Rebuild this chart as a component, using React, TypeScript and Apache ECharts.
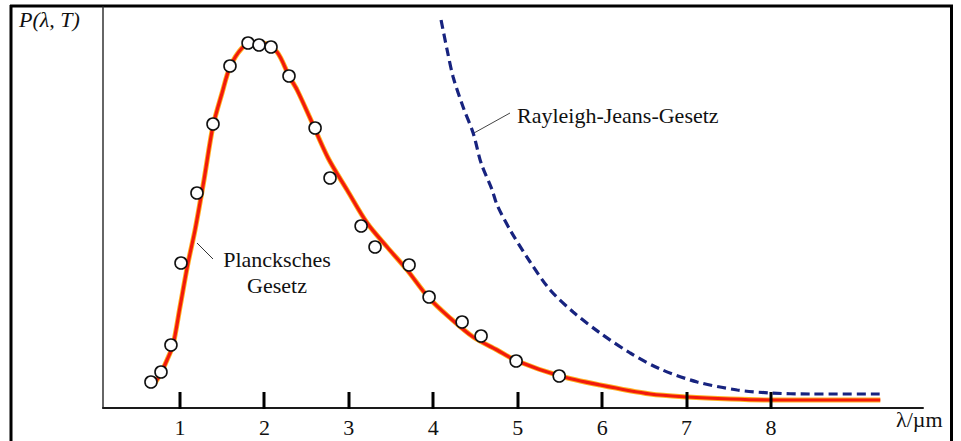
import React, { useEffect, useRef } from "react";
import * as echarts from "echarts";

// x tick values (wavelength in µm)
const xTickValues = [1, 2, 3, 4, 5, 6, 7, 8];

// Planck's law curve
const planckX = [0.68, 0.775, 0.846, 0.917, 1.0, 1.095, 1.178, 1.284, 1.391, 1.498, 1.592, 1.735, 1.853, 1.972, 2.149, 2.291, 2.387, 2.54, 2.754, 2.979, 3.216, 3.453, 3.69, 3.938, 4.199, 4.472, 4.755, 4.993, 5.502, 5.976, 6.569, 7.008, 7.517, 7.991, 9.294];
const planckY = [22, 35, 48, 63, 101, 145, 178, 228, 282, 315, 341, 360, 365, 365, 356, 332, 318, 290, 250, 218, 185, 161, 138, 111, 90, 71, 58, 47, 32, 23, 14, 11, 9, 8, 8];

// Rayleigh-Jeans curve
const rjX = [4.092, 4.164, 4.235, 4.353, 4.472, 4.566, 4.697, 4.756, 4.91, 5.147, 5.384, 5.656, 5.976, 6.332, 6.687, 7.126, 7.6, 7.991, 8.464, 9.294];
const rjY = [388, 358, 331, 301, 275, 245, 218, 203, 178, 146, 118, 96, 75, 55, 39, 26, 18, 15, 14, 14];

// measured points (circles)
const measX = [0.656, 0.775, 0.893, 1.012, 1.201, 1.391, 1.592, 1.806, 1.936, 2.078, 2.291, 2.6, 2.777, 3.145, 3.31, 3.713, 3.95, 4.341, 4.566, 4.981, 5.491];
const measY = [26, 36, 63, 145, 215, 284, 342, 365, 363, 361, 332, 280, 230, 182, 161, 143, 111, 86, 72, 47, 32];

const SERIF = "'Liberation Serif', 'DejaVu Serif', serif";

export default function App() {
  const ref = useRef<HTMLDivElement>(null);
  useEffect(() => {
    const chart = echarts.init(ref.current!, null, { renderer: "svg" });
    const zip = (xs: number[], ys: number[]) => xs.map((x, i) => [x, ys[i]]);
    const baseGraphic: any[] = [
      { id: "fl", type: "line", shape: { x1: 11, y1: 5, x2: 11, y2: 441 }, style: { stroke: "#000", lineWidth: 3 } },
      { id: "ft", type: "line", shape: { x1: 10, y1: 6, x2: 953, y2: 6 }, style: { stroke: "#000", lineWidth: 3 } },
      { id: "fr", type: "line", shape: { x1: 951.5, y1: 5, x2: 951.5, y2: 441 }, style: { stroke: "#000", lineWidth: 3 } },
      {
        id: "ylab",
        type: "text",
        style: { text: "P(λ, T)", x: 19, y: 19, verticalAlign: "middle", align: "left", font: `italic 22px ${SERIF}`, fill: "#111" },
      },
      {
        id: "xlab",
        type: "text",
        style: { text: "λ/µm", x: 896, y: 419, verticalAlign: "middle", align: "left", font: `22px ${SERIF}`, fill: "#111" },
      },
      {
        id: "pl1",
        type: "text",
        style: { text: "Plancksches", x: 277, y: 259, verticalAlign: "middle", align: "center", font: `22px ${SERIF}`, fill: "#111" },
      },
      {
        id: "pl2",
        type: "text",
        style: { text: "Gesetz", x: 277, y: 285, verticalAlign: "middle", align: "center", font: `22px ${SERIF}`, fill: "#111" },
      },
      {
        id: "rj",
        type: "text",
        style: { text: "Rayleigh-Jeans-Gesetz", x: 517, y: 115, verticalAlign: "middle", align: "left", font: `22px ${SERIF}`, fill: "#111" },
      },
      { id: "ll1", type: "line", shape: { x1: 197, y1: 243, x2: 213, y2: 259 }, style: { stroke: "#333", lineWidth: 1 } },
      { id: "ll2", type: "line", shape: { x1: 474, y1: 133, x2: 510, y2: 113 }, style: { stroke: "#444", lineWidth: 1 } },
    ];
    chart.setOption({
      animation: false,
      backgroundColor: "#ffffff",
      grid: { left: 103, right: 38, top: 7, bottom: 33 },
      xAxis: {
        type: "value",
        min: 0.088,
        max: 9.8,
        axisLine: { show: true, onZero: true, lineStyle: { color: "#1a1a1a", width: 2 } },
        axisTick: { show: false },
        axisLabel: {
          customValues: xTickValues.slice(),
          fontFamily: SERIF,
          fontSize: 22,
          color: "#111",
          margin: 8,
        },
        splitLine: { show: false },
      },
      yAxis: {
        type: "value",
        min: 0,
        max: 401,
        axisLine: { show: true, lineStyle: { color: "#333", width: 1.5 } },
        axisTick: { show: false },
        axisLabel: { show: false },
        splitLine: { show: false },
      },
      series: [
        {
          type: "line",
          name: "Rayleigh-Jeans-Gesetz",
          data: zip(rjX, rjY),
          smooth: 0.3,
          showSymbol: false,
          lineStyle: { color: "#17237f", width: 3.2, type: [9, 5] },
          z: 2,
        },
        {
          type: "line",
          name: "glow",
          data: zip(planckX, planckY),
          smooth: 0.3,
          showSymbol: false,
          lineStyle: { color: "#ffb020", width: 5 },
          z: 3,
        },
        {
          type: "line",
          name: "Plancksches Gesetz",
          data: zip(planckX, planckY),
          smooth: 0.3,
          showSymbol: false,
          lineStyle: { color: "#f21a0c", width: 3.2 },
          z: 4,
        },
        {
          type: "scatter",
          name: "Messwerte",
          data: zip(measX, measY),
          symbol: "circle",
          symbolSize: 12,
          itemStyle: { color: "#ffffff", borderColor: "#111", borderWidth: 1.6, opacity: 1 },
          z: 5,
        },
      ],
      graphic: baseGraphic,
    });
    // tick marks placed through the axis scale
    const tickGraphic: any[] = xTickValues.map((v, i) => {
      const p = chart.convertToPixel({ gridIndex: 0 }, [v, 0]) as any;
      const x = Math.round(Number(p[0]));
      const y = Math.round(Number(p[1]));
      return {
        id: "xt" + i,
        type: "rect",
        zlevel: 1,
        z: 100,
        shape: { x: x - 1.5, y: y - 16, width: 3, height: 17 },
        style: { fill: "#000000" },
      };
    });
    chart.setOption({ graphic: [...baseGraphic, ...tickGraphic] });
    return () => chart.dispose();
  }, []);
  return <div ref={ref} style={{ position: "fixed", left: 0, top: 0, width: 961, height: 441 }} />;
}
